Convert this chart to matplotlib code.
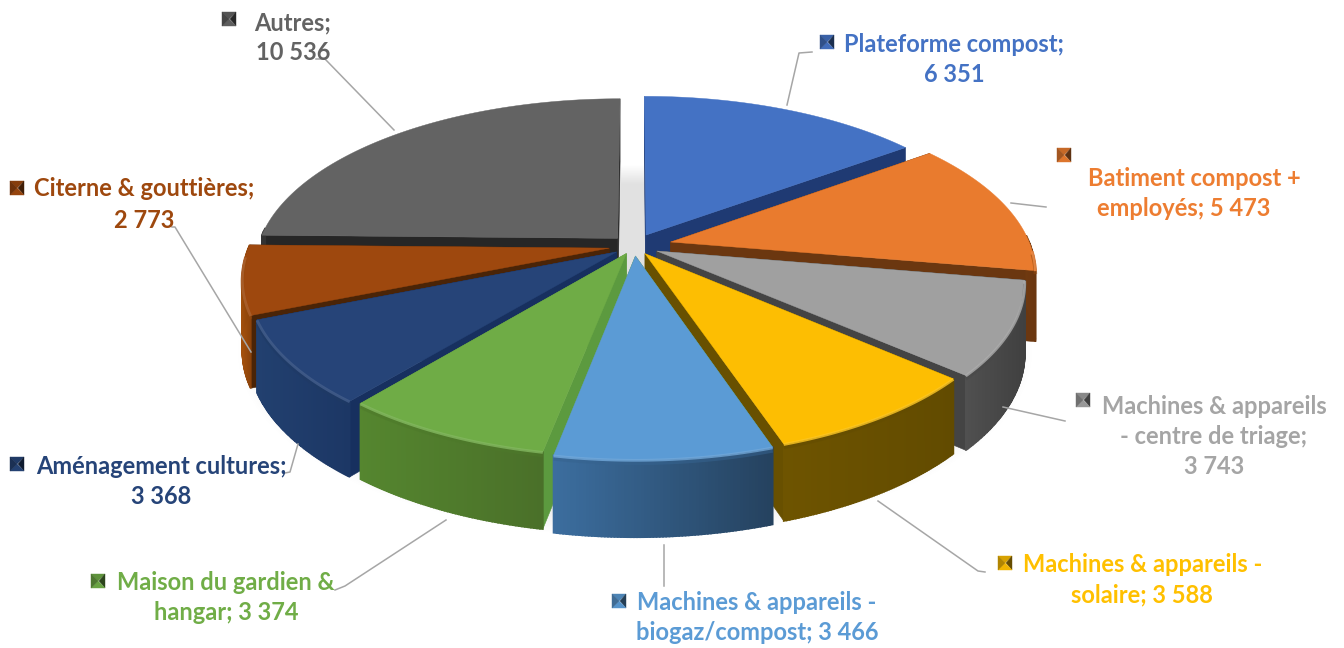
import numpy as np
import matplotlib
matplotlib.use("Agg")
from matplotlib import pyplot as plt

categories = ["Plateforme compost", "Batiment compost + employés", "Machines & appareils - centre de triage",
              "Machines & appareils - solaire", "Machines & appareils - biogaz/compost", "Maison du gardien & hangar",
              "Aménagement cultures", "Citerne & gouttières", "Autres"]
values = [6351, 5473, 3743, 3588, 3466, 3374, 3368, 2773, 10536]
explode = [0.075, 0.105, 0.07, 0.055, 0.06, 0.05, 0.06, 0.07, 0.065]

top_colors = ["#4472C4", "#E97B2E", "#A0A0A0", "#FDBE02", "#5B9BD5", "#6FAC46", "#264478", "#9E480E", "#636363"]
wall_colors = ["#1F3A73", "#6B3710", "#444444", "#685000", "#5F9A3C", "#5C9A3F", "#17305F", "#4A2407", "#262626"]
rim_left = ["#2F5597", "#A3500F", "#505050", "#6E5400", "#3C6E9F", "#55862F", "#22406F", "#A3500C", "#333333"]
rim_right = ["#2F5597", "#6B3710", "#404040", "#624B00", "#25425F", "#4A7029", "#1C3765", "#8A420B", "#333333"]
text_colors = ["#4472C4", "#ED7D31", "#A5A5A5", "#FFC000", "#5B9BD5", "#70AD47", "#264478", "#9E480E", "#636363"]

# projection of the disc, in pixels
CX, CY = 634, 246
F, A, K = 360, 165.6, 0.169
H = 70


def project(x, y):
    d = 1 + K * y
    return CX + F * x / d, CY - A * y / d


def height(y):
    return H * (1 + 0.1 * (-y))


def blend(c1, c2, t):
    a = np.array(matplotlib.colors.to_rgb(c1))
    b = np.array(matplotlib.colors.to_rgb(c2))
    return tuple(a + (b - a) * t)


fig = plt.figure(figsize=(13.44, 6.48), dpi=100)
ax = fig.add_axes([0, 0, 1, 1])
ax.set_xlim(0, 1344)
ax.set_ylim(648, 0)
ax.axis("off")

# soft shadow under the pie, also seen through the gaps between slices
gx, gy = np.meshgrid(np.arange(0, 1344, 2.0), np.arange(0, 648, 2.0))
sy = CY + H - gy
yy = sy / (A - K * sy)
xx = (gx - CX) * (1 + K * yy) / F
r = np.sqrt(xx ** 2 + yy ** 2)
alpha = 0.12 * np.clip((1.09 - r) / 0.16, 0, 1)
alpha[(A - K * sy) <= 0] = 0
shadow = np.zeros(gx.shape + (4,))
shadow[..., 3] = alpha
ax.imshow(shadow, extent=[0, 1344, 648, 0], aspect="auto", zorder=1, interpolation="bilinear")
ax.set_xlim(0, 1344)
ax.set_ylim(648, 0)

ends = np.cumsum(values) / sum(values) * 2 * np.pi
starts = np.r_[0, ends[:-1]]
mids = (starts + ends) / 2
order = np.argsort(-np.cos(mids))

z = 2
for i in order:
    off_x = explode[i] * np.sin(mids[i])
    off_y = explode[i] * np.cos(mids[i])
    th = np.linspace(starts[i], ends[i], 70)
    ex = off_x + np.sin(th)
    ey = off_y + np.cos(th)
    px, py = project(ex, ey)
    ax0, ay0 = project(off_x, off_y)

    # radial walls
    for e in [0, -1]:
        qx = [ax0, px[e], px[e], ax0]
        qy = [ay0, py[e], py[e] + height(ey[e]), ay0 + height(off_y)]
        ax.fill(qx, qy, color=wall_colors[i], lw=0.4, zorder=z)
    z += 1

    # outer rim, only the part that faces us; one quad per step so the shade can run across the slice
    for j in range(len(th) - 1):
        if np.cos(th[j]) > 0.05:
            continue
        t = (px[j] - px.min()) / max(px.max() - px.min(), 1)
        col = blend(rim_left[i], rim_right[i], t)
        qx = [px[j], px[j + 1], px[j + 1], px[j]]
        qy = [py[j], py[j + 1], py[j + 1] + height(ey[j + 1]), py[j] + height(ey[j])]
        ax.fill(qx, qy, color=col, lw=1.2, zorder=z)
    z += 1

    # top face
    ax.fill(np.r_[ax0, px], np.r_[ay0, py], color=top_colors[i], lw=0.3, zorder=z)
    z += 1

    # bevel on the part of the edge that faces us
    front = np.cos(th) < -0.05
    if front.any():
        hi = blend(top_colors[i], "#FFFFFF", 0.14)
        lo = blend(rim_left[i], "#000000", 0.1)
        ax.plot(px[front], py[front] + 3.5, color=lo, lw=2.5, alpha=0.55, zorder=z, solid_capstyle="butt")
        ax.plot(px[front], py[front] + 0.5, color=hi, lw=2, alpha=0.8, zorder=z, solid_capstyle="butt")
        z += 1

# leader lines
leaders = [
    ([787, 799, 812], [105, 53, 52]),
    ([1011, 1046], [203, 207]),
    ([1003, 1065], [407, 421]),
    ([878, 978, 985], [501, 571, 572]),
    ([664, 664], [545, 586]),
    ([446, 345, 335], [520, 586, 590]),
    ([298, 290, 285], [444, 472, 473]),
    ([172, 175, 251], [227, 227, 352]),
    ([316, 325, 394], [59, 59, 130]),
]
for lx, ly in leaders:
    ax.plot(lx, ly, color="#A6A6A6", lw=1.1, zorder=z)

# data labels: text lines with their centres, then the key square
labels = [
    [("Plateforme compost;", 954, 44), ("6 351", 954, 74)],
    [("Batiment compost +", 1194, 178), ("employés; 5 473", 1184, 208)],
    [("Machines & appareils", 1214, 406), ("- centre de triage;", 1214, 437), ("3 743", 1214, 467)],
    [("Machines & appareils -", 1143, 565), ("solaire; 3 588", 1142, 595)],
    [("Machines & appareils -", 757, 602), ("biogaz/compost; 3 466", 757, 632)],
    [("Maison du gardien &", 226, 582), ("hangar; 3 374", 226, 613)],
    [("Aménagement cultures;", 161, 466), ("3 368", 161, 496)],
    [("Citerne & gouttières;", 144, 189), ("2 773", 144, 220)],
    [("Autres;", 293, 23), ("10 536", 293, 53)],
]
keys = [(827, 42), (1064, 155), (1083, 400), (1005, 563), (619, 601), (98, 581), (17, 464), (17, 188), (229, 19)]

z += 1
for i, lines in enumerate(labels):
    for txt, tx, ty in lines:
        ax.text(tx, ty, txt, color=text_colors[i], family=["Lato", "DejaVu Sans"], weight="bold",
                fontsize=17, ha="center", va="center", zorder=z)
    # small bevelled square
    kx, ky = keys[i]
    s = 7
    corners = [(-s, -s), (s, -s), (s, s), (-s, s)]
    shades = [("#000000", 0.15), ("#000000", 0.6), ("#000000", 0.05), ("#000000", 0.3)]
    for n in range(4):
        a, b = corners[n], corners[(n + 1) % 4]
        col = blend(top_colors[i], shades[n][0], shades[n][1])
        mid = (kx + 1 if n == 1 else kx, ky)
        ax.fill([kx + a[0], kx + b[0], mid[0]], [ky + a[1], ky + b[1], mid[1]], color=col, lw=0.3, zorder=z)

fig.savefig("out.png", dpi=100, facecolor="white")
